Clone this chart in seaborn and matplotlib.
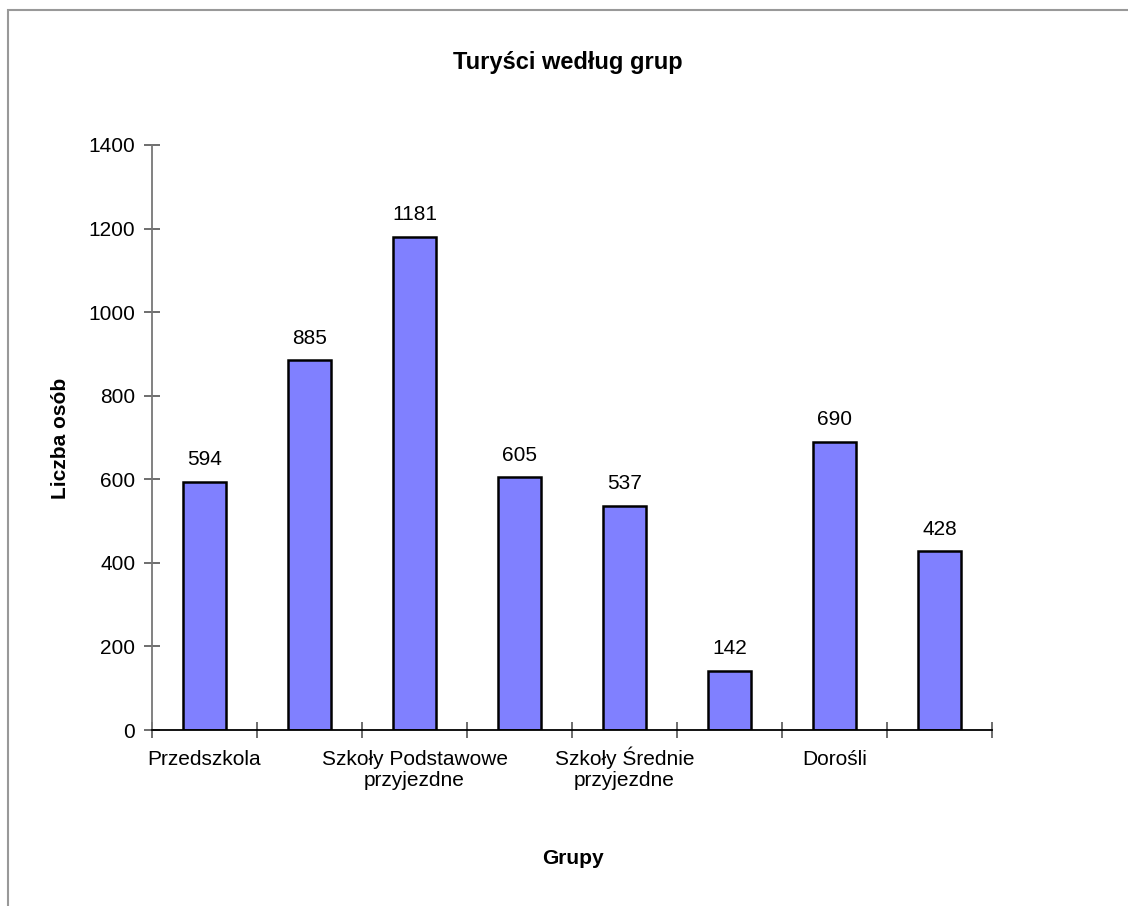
import matplotlib
matplotlib.use("Agg")
import matplotlib.pyplot as plt
import seaborn as sns
import pandas as pd
from matplotlib.patches import Rectangle

categories = ["Przedszkola", "Szkoły Podstawowe miejscowe", "Szkoły Podstawowe\nprzyjezdne",
              "Szkoły Średnie miejscowe", "Szkoły Średnie\nprzyjezdne", "Studenci", "Dorośli", "Inni"]
tick_labels = ["Przedszkola", "", "Szkoły Podstawowe\nprzyjezdne", "", "Szkoły Średnie\nprzyjezdne", "", "Dorośli", ""]
values = [594, 885, 1181, 605, 537, 142, 690, 428]
y_ticks = [0, 200, 400, 600, 800, 1000, 1200, 1400]

sns.set_theme(style="white")
plt.rcParams['font.family'] = ['Liberation Sans', 'DejaVu Sans']
plt.rcParams['text.color'] = 'black'
plt.rcParams['xtick.color'] = 'black'
plt.rcParams['ytick.color'] = 'black'

df = pd.DataFrame({"grupa": categories, "liczba": values})

fig = plt.figure(figsize=(11.28, 9.06), dpi=100)
fig.patch.set_facecolor("white")
ax = fig.add_axes([152/1128, 1-730/906, 840/1128, 585/906])

sns.barplot(data=df, x="grupa", y="liczba", order=categories, color="#8080FF",
            width=0.41, edgecolor="black", linewidth=1.8, saturation=1, ax=ax)

for i, v in enumerate(values):
    ax.annotate(str(v), (i, v), xytext=(0, 9), textcoords="offset points",
                ha="center", va="bottom", fontsize=15, color="black")

ax.set_xlim(-0.5, len(categories) - 0.5)
ax.set_ylim(0, 1400)
ax.set_yticks(y_ticks)
ax.set_yticklabels([str(t) for t in y_ticks], fontsize=15)
ax.set_xticks([i - 0.5 for i in range(len(categories) + 1)])
ax.set_xticklabels([])
ax.set_xticks(range(len(categories)), minor=True)
shown = [t if "\n" in t else t + "\n " for t in tick_labels]
ax.set_xticklabels(shown, minor=True, fontsize=15)
for lab in ax.get_xticklabels(minor=True):
    lab.set_va("baseline")
    lab.set_linespacing(1.1)
ax.tick_params(axis="x", which="minor", bottom=True, length=0, pad=40, labelcolor="black")
ax.tick_params(axis="x", which="major", bottom=True, direction="inout", length=12, width=1.2,
               color="#555555")
ax.tick_params(axis="y", left=True, direction="inout", length=12, width=1.2, color="#555555",
               pad=6, labelcolor="black")

for s in ["top", "right"]:
    ax.spines[s].set_visible(False)
ax.spines["left"].set_color("#777777")
ax.spines["left"].set_linewidth(1.3)
ax.spines["bottom"].set_color("black")
ax.spines["bottom"].set_linewidth(1.3)

ax.set_xlabel("")
ax.set_ylabel("")
fig.text(573/1128, 1-858/906, "Grupy", ha="center", va="center", fontsize=15, fontweight="bold")
fig.text(60/1128, 1-438/906, "Liczba osób", ha="center", va="center", rotation=90,
         fontsize=15, fontweight="bold")
fig.text(568/1128, 1-62/906, "Turyści według grup", ha="center", va="center",
         fontsize=17, fontweight="bold")

fig.patches.append(Rectangle((8/1128, -0.1), 1.2, 1.1 - 10/906, transform=fig.transFigure,
                             fill=False, edgecolor="#999999", linewidth=1.5))

fig.savefig("out.png", dpi=100, facecolor="white")
